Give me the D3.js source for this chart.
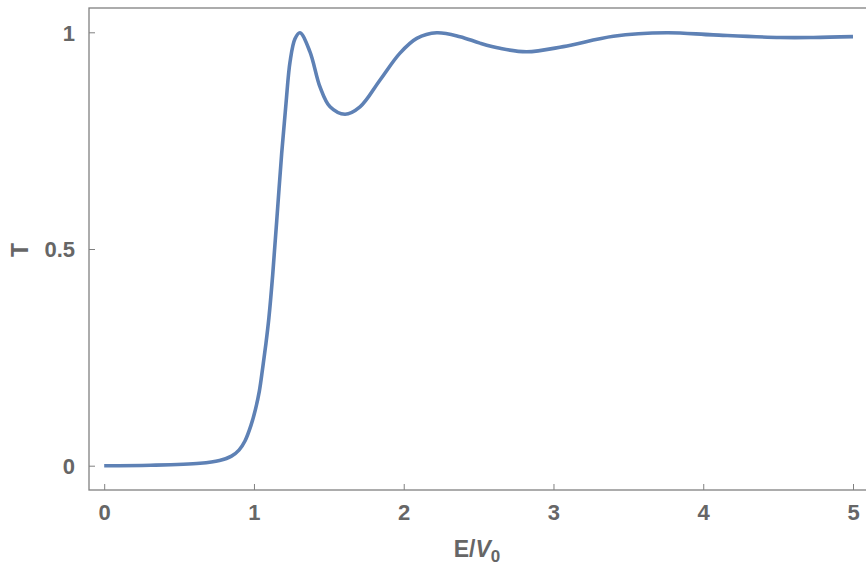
<!DOCTYPE html>
<html>
<head>
<meta charset="utf-8">
<script src="https://cdn.jsdelivr.net/npm/d3@7"></script>
<style>
  body { margin: 0; background: #fff; }
  svg text { font-family: "Liberation Sans", Arial, sans-serif; font-weight: bold; fill: #666; }
</style>
</head>
<body>
<script>
// transmission curve
var energy = [0, 0.31, 0.64, 0.77, 0.85, 0.9, 0.94, 0.98, 1.01, 1.036, 1.058, 1.08, 1.1, 1.125, 1.152, 1.185,
  1.214, 1.241, 1.274, 1.307, 1.374, 1.441, 1.508, 1.608, 1.708, 1.842, 1.975, 2.087, 2.22, 2.376, 2.509, 2.643,
  2.821, 3.066, 3.4, 3.756, 4.067, 4.513, 4.735, 5.0];
var trans = [0, 0.001, 0.0055, 0.012, 0.022, 0.036, 0.057, 0.093, 0.13, 0.172, 0.225, 0.282, 0.342, 0.44, 0.565, 0.72,
  0.836, 0.932, 0.985, 0.999, 0.955, 0.874, 0.828, 0.811, 0.828, 0.89, 0.952, 0.986, 0.999, 0.99, 0.975, 0.963,
  0.955, 0.967, 0.991, 0.999, 0.994, 0.988, 0.988, 0.99];
var xTicks = [0, 1, 2, 3, 4, 5];
var yTicks = [0, 0.5, 1];
var yTickLabels = ["0", "0.5", "1"];

var w = 866, h = 567;
var frameLeft = 89, frameTop = 8, frameBottom = 490, frameRight = 870;

var svg = d3.select("body").append("svg")
  .attr("width", w)
  .attr("height", h);

var x = d3.scaleLinear().domain([0, 5]).range([104.2, 853]);
var y = d3.scaleLinear().domain([0, 1]).range([465.7, 32.3]);

// frame
svg.append("rect")
  .attr("x", frameLeft).attr("y", frameTop)
  .attr("width", frameRight - frameLeft).attr("height", frameBottom - frameTop)
  .attr("fill", "none").attr("stroke", "#808080").attr("stroke-width", 1.3);

// ticks (pointing inwards)
var xAxis = d3.axisBottom(x).tickValues(xTicks).tickSizeInner(-6).tickSizeOuter(0).tickPadding(14).tickFormat(d3.format("d"));
var gx = svg.append("g").attr("transform", "translate(0," + frameBottom + ")").call(xAxis);
gx.select(".domain").remove();
gx.selectAll("line").attr("stroke", "#808080").attr("stroke-width", 1);
gx.selectAll("text").attr("font-size", 22).attr("font-family", null).attr("fill", null);

var yAxis = d3.axisLeft(y).tickValues(yTicks).tickSizeInner(-6).tickSizeOuter(0).tickPadding(14)
  .tickFormat(function(d, i) { return yTickLabels[i]; });
var gy = svg.append("g").attr("transform", "translate(" + frameLeft + ",0)").call(yAxis);
gy.select(".domain").remove();
gy.selectAll("line").attr("stroke", "#808080").attr("stroke-width", 1);
gy.selectAll("text").attr("font-size", 22).attr("font-family", null).attr("fill", null).attr("dy", "0.36em");

// axis labels
var xl = svg.append("text")
  .attr("x", 477).attr("y", 557)
  .attr("text-anchor", "middle")
  .attr("font-size", 23);
xl.append("tspan").text("E/");
xl.append("tspan").attr("font-style", "italic").text("V");
xl.append("tspan").attr("font-size", 17).attr("dy", 5).text("0");

svg.append("text")
  .attr("transform", "translate(28,250) rotate(-90)")
  .attr("text-anchor", "middle")
  .attr("font-size", 23)
  .text("T");

// curve
var line = d3.line()
  .x(function(d, i) { return x(energy[i]); })
  .y(function(d) { return y(d); })
  .curve(d3.curveCatmullRom.alpha(0.5));

svg.append("path")
  .datum(trans)
  .attr("d", line)
  .attr("fill", "none")
  .attr("stroke", "#5e81b5")
  .attr("stroke-width", 3.6)
  .attr("stroke-linejoin", "round");
</script>
</body>
</html>
